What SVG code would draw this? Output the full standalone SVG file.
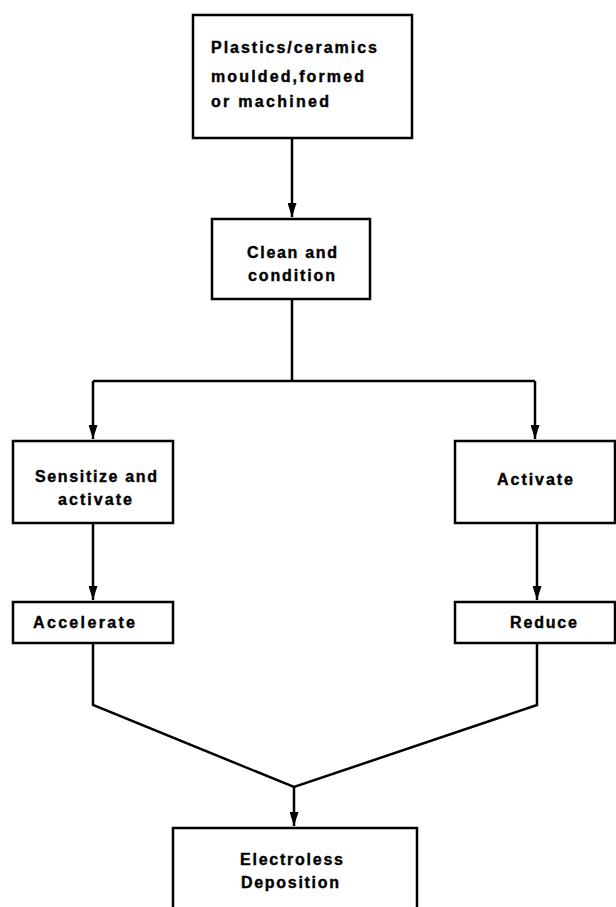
<svg xmlns="http://www.w3.org/2000/svg" width="616" height="907" viewBox="0 0 616 907">
<style>
.box{fill:#fff;stroke:#000;stroke-width:2.5}
.ln{fill:none;stroke:#000;stroke-width:2.5;stroke-linejoin:miter}
.t{font-family:"Liberation Sans",Arial,sans-serif;font-weight:bold;font-size:16px;fill:#000;stroke:#000;stroke-width:0.4}
</style>
<defs>
<marker id="ah" markerWidth="14" markerHeight="9" refX="10" refY="5" orient="auto" markerUnits="userSpaceOnUse" viewBox="0 0 10 10" preserveAspectRatio="none">
<path d="M0,0 L10,5 L0,10 Z" fill="#000"/>
</marker>
</defs>
<rect width="616" height="907" fill="#fff"/>
<g id="connectors">
<path class="ln" d="M292,138 V217" marker-end="url(#ah)"/>
<path class="ln" d="M292,299 V381"/>
<path class="ln" d="M93,381 H535"/>
<path class="ln" d="M93,381 V439" marker-end="url(#ah)"/>
<path class="ln" d="M535,381 V439" marker-end="url(#ah)"/>
<path class="ln" d="M93,523 V600" marker-end="url(#ah)"/>
<path class="ln" d="M537,523 V600" marker-end="url(#ah)"/>
<path class="ln" d="M93,643 V705 L294,787 L537,705 V643"/>
<path class="ln" d="M294,787 V826" marker-end="url(#ah)"/>
</g>
<g id="n1">
<rect class="box" x="193" y="15" width="219" height="123"/>
<text class="t" x="211" y="53" textLength="166" lengthAdjust="spacing">Plastics/ceramics</text>
<text class="t" x="211" y="82" textLength="153" lengthAdjust="spacing">moulded,formed</text>
<text class="t" x="211" y="107" textLength="118" lengthAdjust="spacing">or machined</text>
</g>
<g id="n2">
<rect class="box" x="212" y="219" width="158" height="80"/>
<text class="t" x="247" y="258" textLength="90" lengthAdjust="spacing">Clean and</text>
<text class="t" x="248" y="281" textLength="87" lengthAdjust="spacing">condition</text>
</g>
<g id="n3">
<rect class="box" x="13" y="441" width="160" height="82"/>
<text class="t" x="35" y="482" textLength="122" lengthAdjust="spacing">Sensitize and</text>
<text class="t" x="58" y="505" textLength="74" lengthAdjust="spacing">activate</text>
</g>
<g id="n4">
<rect class="box" x="455" y="441" width="160" height="82"/>
<text class="t" x="497" y="485" textLength="76" lengthAdjust="spacing">Activate</text>
</g>
<g id="n5">
<rect class="box" x="13" y="602" width="160" height="41"/>
<text class="t" x="33" y="628" textLength="102" lengthAdjust="spacing">Accelerate</text>
</g>
<g id="n6">
<rect class="box" x="455" y="602" width="160" height="41"/>
<text class="t" x="510" y="628" textLength="67" lengthAdjust="spacing">Reduce</text>
</g>
<g id="n7">
<rect class="box" x="173" y="828" width="244" height="100"/>
<text class="t" x="240" y="865" textLength="103" lengthAdjust="spacing">Electroless</text>
<text class="t" x="241" y="888" textLength="98" lengthAdjust="spacing">Deposition</text>
</g>
</svg>
